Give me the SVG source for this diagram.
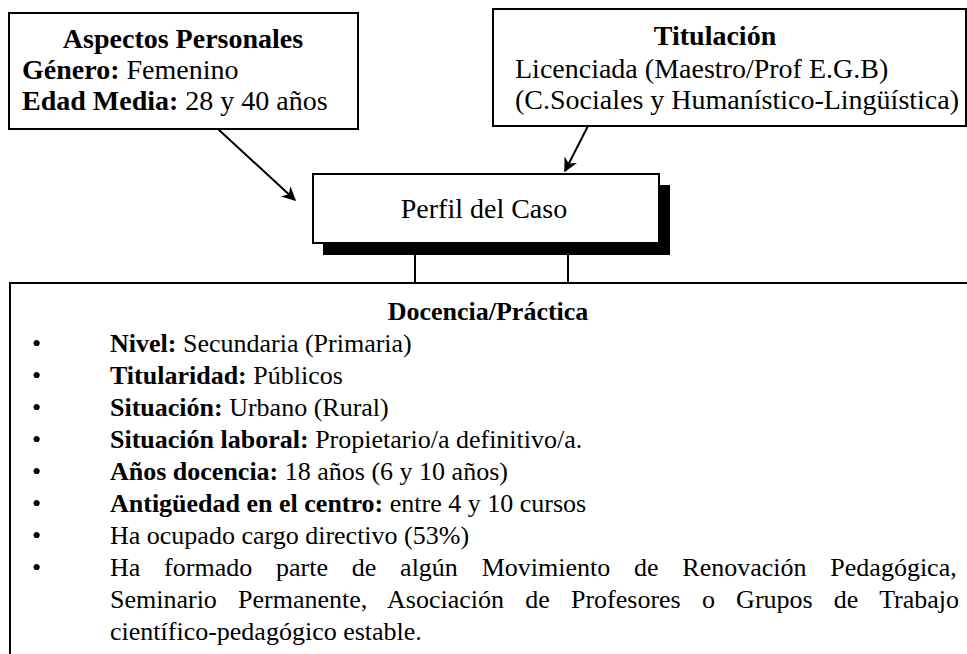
<svg xmlns="http://www.w3.org/2000/svg" width="967" height="654" viewBox="0 0 967 654">
<defs>
<style>
.box{fill:#fff;stroke:#000;stroke-width:2}
.t{font-family:"Liberation Serif",serif;font-size:26px;fill:#000}
.big{font-size:28px}
.b{font-weight:bold}
.c{text-anchor:middle}
.ln{stroke:#000;stroke-width:2;fill:none}
</style>
<marker id="ah" viewBox="0 0 10 10" refX="9" refY="5" markerWidth="18" markerHeight="14" orient="auto" markerUnits="userSpaceOnUse">
<path d="M0,0 L10,5 L0,10 L3,5 z" fill="#000"/>
</marker>
</defs>
<rect width="967" height="654" fill="#fff"/>
<g id="connectors">
<line class="ln" x1="218" y1="129" x2="295" y2="200" style="marker-end:url(#ah)"/>
<line class="ln" x1="588" y1="126" x2="565" y2="171" style="marker-end:url(#ah)"/>
<line class="ln" x1="415" y1="255" x2="415" y2="283"/>
<line class="ln" x1="568" y1="255" x2="568" y2="283"/>
</g>
<g id="aspectos">
<rect class="box" x="9" y="13" width="349" height="116"/>
<text class="t big b c" x="183" y="48">Aspectos Personales</text>
<text class="t big" x="22" y="79"><tspan class="b">Género:</tspan> Femenino</text>
<text class="t big" x="22" y="110"><tspan class="b">Edad Media:</tspan> 28 y 40 años</text>
</g>
<g id="titulacion">
<rect class="box" x="493" y="9" width="473" height="117"/>
<text class="t big b c" x="715" y="45">Titulación</text>
<text class="t big" x="515" y="78">Licenciada (Maestro/Prof E.G.B)</text>
<text class="t big" x="515" y="109">(C.Sociales y Humanístico-Lingüística)</text>
</g>
<g id="perfil">
<rect x="323" y="185" width="347" height="70" fill="#000"/>
<rect class="box" x="313" y="174" width="346" height="69"/>
<text class="t big c" x="484" y="218">Perfil del Caso</text>
</g>
<g id="docencia">
<rect class="box" x="10" y="283" width="970" height="400"/>
<text class="t b c" x="488" y="320">Docencia/Práctica</text>
<g class="t">
<text x="32" y="352">•</text>
<text x="32" y="384">•</text>
<text x="32" y="416">•</text>
<text x="32" y="448">•</text>
<text x="32" y="480">•</text>
<text x="32" y="512">•</text>
<text x="32" y="544">•</text>
<text x="32" y="576">•</text>
</g>
<text class="t" x="110" y="352"><tspan class="b">Nivel:</tspan> Secundaria (Primaria)</text>
<text class="t" x="110" y="384"><tspan class="b">Titularidad:</tspan> Públicos</text>
<text class="t" x="110" y="416"><tspan class="b">Situación:</tspan> Urbano (Rural)</text>
<text class="t" x="110" y="448"><tspan class="b">Situación laboral:</tspan> Propietario/a definitivo/a.</text>
<text class="t" x="110" y="480"><tspan class="b">Años docencia:</tspan> 18 años (6 y 10 años)</text>
<text class="t" x="110" y="512"><tspan class="b">Antigüedad en el centro:</tspan> entre 4 y 10 cursos</text>
<text class="t" x="110" y="544">Ha ocupado cargo directivo (53%)</text>
<text class="t" x="110" y="576" word-spacing="17.3">Ha formado parte de algún Movimiento de Renovación Pedagógica,</text>
<text class="t" x="110" y="608" word-spacing="14.7">Seminario Permanente, Asociación de Profesores o Grupos de Trabajo</text>
<text class="t" x="110" y="640">científico-pedagógico estable.</text>
</g>
</svg>
